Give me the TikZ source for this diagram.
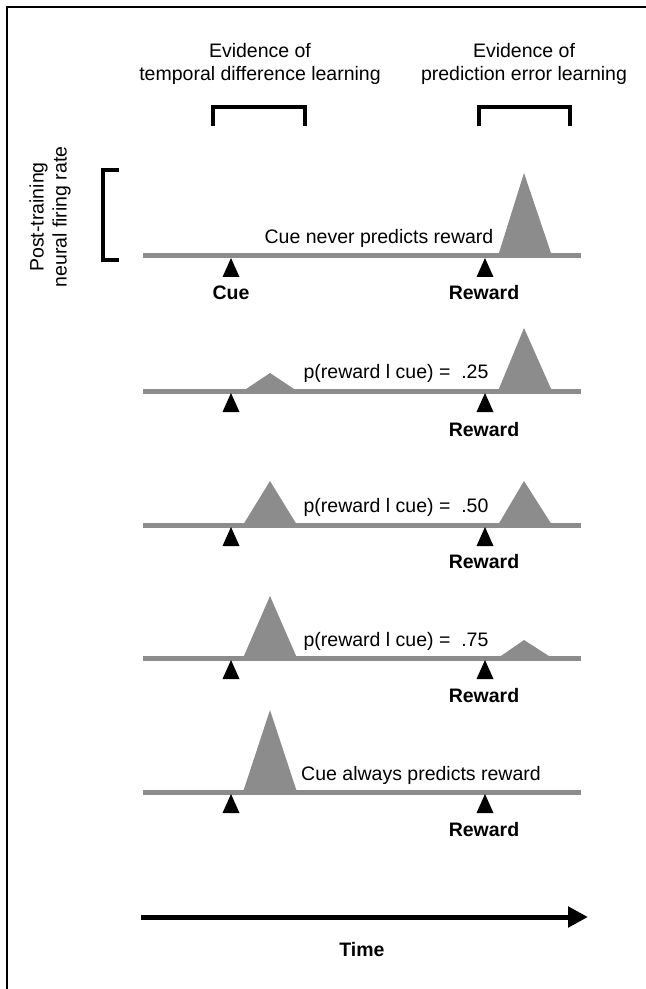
\documentclass[tikz,border=0pt]{standalone}
\usepackage{fontspec}
\setmainfont{Liberation Sans}
\usetikzlibrary{arrows.meta}

\definecolor{peakgray}{gray}{0.55}

\tikzset{
    lbl/.style = {font = \fontsize{9.75}{11.5}\selectfont, inner sep = 0pt},
    boldlbl/.style = {font = \fontsize{9.75}{11.5}\selectfont\bfseries, inner sep = 0pt},
    timeline/.style = {draw = peakgray, line width = 2.5pt},
    bracket/.style = {line width = 2pt},
    peak/.style = {fill = peakgray},
    marker/.style = {fill = black},
}

\begin{document}
\begin{tikzpicture}[x = 0.5pt, y = -0.5pt]
    \useasboundingbox (0,0) rectangle (646,989);
    % frame (top and left only)
    \draw [line width = 0.8pt] (7,989) -- (7,7) -- (646,7);

    % headings and brackets
    \node (tdhead) at (260,64) [lbl, align = center] {Evidence of\\temporal difference learning};
    \node (pehead) at (524,64) [lbl, align = center] {Evidence of\\prediction error learning};
    \draw [bracket] (213,126) -- (213,107) -- (305,107) -- (305,126);
    \draw [bracket] (479,126) -- (479,107) -- (570,107) -- (570,126);

    % firing rate scale
    \node (ratelbl) at (50,217) [lbl, rotate = 90, align = center] {Post-training\\neural firing rate};
    \draw [bracket] (119,170) -- (103,170) -- (103,260) -- (119,260);

    % row 1: cue never predicts reward
    \fill [peak] (498,256) -- (524,173) -- (552,256) -- cycle;
    \draw [timeline] (143,256) -- (581,256);
    \fill [marker] (231,258) -- (222.5,277) -- (239.5,277) -- cycle;
    \fill [marker] (485,258) -- (476.5,277) -- (493.5,277) -- cycle;
    \node (never) at (379,238) [lbl] {Cue never predicts reward};
    \node (cue) at (231,293) [boldlbl] {Cue};
    \node (reward1) at (484,293) [boldlbl] {Reward};

    % row 2: p = .25
    \fill [peak] (243,391) -- (270,373) -- (297,391) -- cycle;
    \fill [peak] (498,391) -- (524,328) -- (552,391) -- cycle;
    \draw [timeline] (143,391) -- (581,391);
    \fill [marker] (231,393) -- (222.5,412) -- (239.5,412) -- cycle;
    \fill [marker] (485,393) -- (476.5,412) -- (493.5,412) -- cycle;
    \node (pquarter) at (396,373) [lbl] {p(reward l cue) = \ .25};
    \node (reward2) at (484,430) [boldlbl] {Reward};

    % row 3: p = .50
    \fill [peak] (243,525) -- (270,481) -- (297,525) -- cycle;
    \fill [peak] (498,525) -- (524,481) -- (552,525) -- cycle;
    \draw [timeline] (143,525) -- (581,525);
    \fill [marker] (231,527) -- (222.5,546) -- (239.5,546) -- cycle;
    \fill [marker] (485,527) -- (476.5,546) -- (493.5,546) -- cycle;
    \node (phalf) at (396,507) [lbl] {p(reward l cue) = \ .50};
    \node (reward3) at (484,562) [boldlbl] {Reward};

    % row 4: p = .75
    \fill [peak] (243,658) -- (270,596) -- (297,658) -- cycle;
    \fill [peak] (498,658) -- (524,640) -- (552,658) -- cycle;
    \draw [timeline] (143,658) -- (581,658);
    \fill [marker] (231,660) -- (222.5,679) -- (239.5,679) -- cycle;
    \fill [marker] (485,660) -- (476.5,679) -- (493.5,679) -- cycle;
    \node (pthreeq) at (396,641) [lbl] {p(reward l cue) = \ .75};
    \node (reward4) at (484,696) [boldlbl] {Reward};

    % row 5: cue always predicts reward
    \fill [peak] (243,792) -- (270,710) -- (297,792) -- cycle;
    \draw [timeline] (143,792) -- (581,792);
    \fill [marker] (231,794) -- (222.5,813) -- (239.5,813) -- cycle;
    \fill [marker] (485,794) -- (476.5,813) -- (493.5,813) -- cycle;
    \node (always) at (421,775) [lbl] {Cue always predicts reward};
    \node (reward5) at (484,830) [boldlbl] {Reward};

    % time axis
    \coordinate (tstart) at (141,917);
    \coordinate (tend) at (588,917);
    \draw [line width = 2.5pt, -{Triangle[length = 10pt, width = 10pt]}] (tstart) -- (tend);
    \node (time) at (362,950) [boldlbl] {Time};
\end{tikzpicture}
\end{document}
